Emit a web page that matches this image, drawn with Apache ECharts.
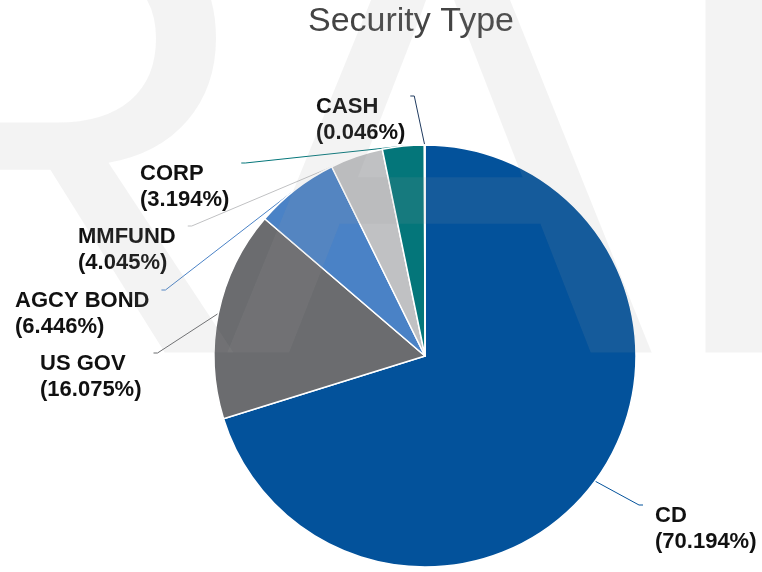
<!DOCTYPE html>
<html>
<head>
<meta charset="utf-8">
<script src="https://cdn.jsdelivr.net/npm/echarts@6/dist/echarts.min.js"></script>
<style>
  html, body { margin: 0; padding: 0; background: #fff; }
  #chart { width: 762px; height: 572px; }
</style>
</head>
<body>
<div id="chart"></div>
<script>
const categories = ['CD', 'US GOV', 'AGCY BOND', 'MMFUND', 'CORP', 'CASH'];
const shares = [70.194, 16.075, 6.446, 4.045, 3.194, 0.046];

const colors = ['#03529B', '#6B6C6F', '#4A82C6', '#C0C1C3', '#04767A', '#1F3A5F'];
// left/top of each label's text
const labelSpots = [[655, 503], [40, 351], [15, 288], [78, 224], [140, 161], [316, 94]];
// extra box around the text so the guide line meets it near its top corner
const labelPads = [[48, 0, 0, 12], [48, 12, 0, 0], [48, 12, 0, 0], [48, 12, 0, 0], [48, 12, 0, 0], [48, 5, 0, 0]];

// "DRAFT" watermark, only R, A and F fall inside the canvas
const stamp = [['R', -199], ['A', 226], ['F', 653]];

const chart = echarts.init(document.getElementById('chart'));
chart.setOption({
  animation: false,
  title: {
    text: 'Security Type',
    left: 303,
    top: 0,
    textStyle: {
      color: '#444',
      fontFamily: 'Liberation Sans',
      fontWeight: 'normal',
      fontSize: 34
    }
  },
  graphic: stamp.map(s => ({
    type: 'text',
    silent: true,
    z: 100,
    style: {
      text: s[0],
      x: s[1],
      y: 176,
      font: '640px "Liberation Sans"',
      fill: 'rgba(160,160,160,0.12)',
      align: 'left',
      verticalAlign: 'middle',
      textAlign: 'left',
      textVerticalAlign: 'middle'
    }
  })),
  series: [{
    type: 'pie',
    center: [425, 356],
    radius: 211,
    startAngle: 90,
    clockwise: true,
    avoidLabelOverlap: false,
    itemStyle: { borderColor: '#fff', borderWidth: 1.5 },
    label: {
      show: true,
      position: 'outside',
      formatter: p => p.name + '\n(' + p.value.toFixed(3) + '%)',
      color: '#111',
      fontFamily: 'Liberation Sans',
      fontWeight: 'bold',
      fontSize: 22,
      lineHeight: 26,
      align: 'left'
    },
    labelLine: { show: true, length: 8, length2: 4, smooth: false, lineStyle: { width: 1 } },
    labelLayout: p => {
      const pad = labelPads[p.dataIndex];
      return {
        x: labelSpots[p.dataIndex][0] - pad[3],
        y: labelSpots[p.dataIndex][1] - pad[0],
        align: 'left',
        verticalAlign: 'top'
      };
    },
    emphasis: { disabled: true },
    data: categories.map((c, i) => ({
      name: c,
      value: shares[i],
      itemStyle: { color: colors[i] },
      label: { padding: labelPads[i] }
    }))
  }]
});
</script>
</body>
</html>
